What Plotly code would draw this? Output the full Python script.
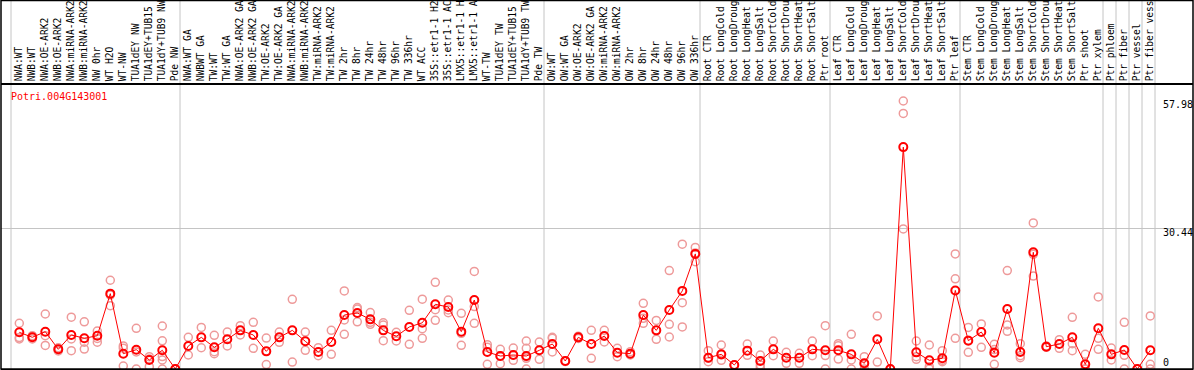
import plotly.graph_objects as go

labels = [
    "NWA:WT", "NWB:WT", "NWA:OE-ARK2", "NWB:OE-ARK2", "NWA:miRNA-ARK2", "NWB:miRNA-ARK2",
    "NW 0hr", "WT H2O", "WT-NW", "TUA1dEY NW", "TUA1dEY+TUB15", "TUA1dY+TUB9 NW", "Pde NW",
    "NWA:WT GA", "NWBWT GA", "TW:WT", "TW:WT GA", "NWA:OE-ARK2 GA", "NWB:OE-ARK2 GA",
    "TW:OE-ARK2", "TW:OE-ARK2 GA", "NWA:miRNA-ARK2", "NWB:miRNA-ARK2", "TW:miRNA-ARK2",
    "TW:miRNA-ARK2", "TW 2hr", "TW 8hr", "TW 24hr", "TW 48hr", "TW 96hr", "TW 336hr",
    "WT ACC", "35S::etr1-1 H2", "35S::etr1-1 AC", "LMX5::etr1-1 H", "LMX5::etr1-1 A",
    "WT-TW", "TUA1dEY TW", "TUA1dEY+TUB15", "TUA1dY+TUB9 TW", "Pde TW",
    "OW:WT", "OW:WT GA", "OW:OE-ARK2", "OW:OE-ARK2 GA", "OW:miRNA-ARK2", "OW:miRNA-ARK2",
    "OW 2hr", "OW 8hr", "OW 24hr", "OW 48hr", "OW 96hr", "OW 336hr",
    "Root CTR", "Root LongCold", "Root LongDroug", "Root LongHeat", "Root LongSalt",
    "Root ShortCold", "Root ShortDrou", "Root ShortHeat", "Root ShortSalt", "Ptr root",
    "Leaf CTR", "Leaf LongCold", "Leaf LongDroug", "Leaf LongHeat", "Leaf LongSalt",
    "Leaf ShortCold", "Leaf ShortDrou", "Leaf ShortHeat", "Leaf ShortSalt", "Ptr leaf",
    "Stem CTR", "Stem LongCold", "Stem LongDroug", "Stem LongHeat", "Stem LongSalt",
    "Stem ShortCold", "Stem ShortDrou", "Stem ShortHeat", "Stem ShortSalt", "Ptr shoot",
    "Ptr xylem", "Ptr phloem", "Ptr fiber", "Ptr vessel", "Ptr fiber vess",
]

group_sizes = [13, 28, 12, 10, 10, 11, 1, 1, 1, 1]

mean_values = [
    7.94, 6.86, 8.07, 4.26, 7.36, 6.64, 7.2, 16.3, 3.31, 4.18, 1.95, 4.05, 0.0,
    4.98, 6.85, 4.69, 6.42, 8.36, 7.36, 3.82, 6.85, 8.36, 5.99, 3.68, 5.84, 11.68,
    12.12, 10.74, 8.36, 7.07, 9.09, 10.0, 13.99, 13.41, 8.08, 14.93, 3.68, 2.81,
    3.03, 2.81, 4.04,
    5.41, 1.73, 6.85, 5.41, 7.14, 3.53, 3.32, 11.68, 8.36, 12.77, 16.9, 24.9,
    2.45, 3.17, 0.87, 3.97, 1.73, 4.25, 2.45, 2.45, 4.25, 4.04,
    4.04, 3.17, 1.23, 6.42, 0.0, 48.0, 3.6, 1.88, 2.31, 17.0,
    6.13, 8.0, 3.53, 12.98, 3.68, 25.24, 4.83, 5.41, 6.85, 1.01, 8.8,
    3.17, 4.11, 0.0, 4.04,
]

replicates = [
    [9.9, 6.8, 6.5], [7.2, 6.9, 6.5], [11.9, 7.2, 5.1], [4.6, 4.2, 3.9],
    [11.2, 6.5, 3.97], [10.2, 5.8, 4.3], [8.2, 6.6, 5.8], [19.2, 16.0, 13.7],
    [5.0, 4.5, 0.65], [8.8, 3.7, 0.0], [2.67, 2.16, 0.5], [9.3, 6.1, 2.7, 1.95, 0.0],
    [0.0, 0.0],
    [6.86, 3.03], [9.0, 4.6], [7.28, 3.75, 3.32], [8.0, 4.98], [9.37, 7.36],
    [10.1, 4.47], [6.7, 0.95], [8.0, 5.77], [15.07, 1.51], [8.0, 4.04], [4.62, 2.88],
    [8.36, 3.17], [16.9, 10.6, 7.5], [13.3, 13.0, 10.2], [12.2, 10.1, 9.67],
    [10.0, 9.52, 6.13], [7.93, 6.06], [12.69, 5.34], [15.1, 8.73, 6.63],
    [18.75, 12.84, 10.53], [14.93, 12.77, 12.19], [12.04, 7.72, 5.12],
    [21.1, 13.5, 9.88], [5.27, 4.69, 1.01], [4.25, 2.88, 1.15], [4.54, 3.03, 1.88],
    [6.06, 4.47, 2.67, 2.31, 0.0], [5.84, 2.09],
    [6.85, 6.63, 3.68], [1.8, 1.6], [7.1, 6.6], [8.36, 2.31], [8.36, 5.84],
    [4.47, 2.67], [3.75, 3.03], [14.2, 10.96, 9.88], [10.5, 6.42], [21.3, 9.67, 6.92],
    [27.0, 14.35, 9.09], [26.3, 25.1, 23.2],
    [3.97, 2.31, 1.59], [5.19, 3.03, 1.88], [0.9, 0.8], [5.41, 2.96],
    [3.03, 0.87, 0.29], [6.06, 2.88], [3.6, 1.23], [3.39, 1.23], [6.06, 2.88],
    [9.37, 2.9, 0.0],
    [5.48, 5.05, 2.16], [7.5, 1.95, 0.0], [2.67, 1.0, 0.0], [11.47, 1.51], [0.0, 0.0],
    [57.98, 55.3, 30.3], [6.06, 2.67, 2.1], [5.19, 0.5, 0.0], [3.97, 1.88, 1.59],
    [24.9, 19.5, 6.63],
    [9.0, 6.2, 3.6], [9.74, 4.69], [5.34, 4.2, 1.01], [21.3, 9.52, 8.15],
    [5.48, 2.88, 2.45], [31.6, 24.8, 20.1], [5.0, 4.7], [6.35, 4.47],
    [11.18, 5.48, 3.97], [3.17, 0.0, 0.0], [15.6, 6.63, 4.25],
    [4.54, 1.95], [10.1, 2.96, 0.0], [0.0, 0.0], [11.47, 1.01, 0.0],
]

gene_name = "Potri.004G143001"
y_ticks = [0, 30.44, 57.98]
y_tick_text = ["0", "30.44", "57.98"]

FONT = "DejaVu Sans Mono"
MEAN_COLOR = "#ff0000"
REP_COLOR = "#ee9a9a"
GRID = "#c4c4c4"

xs = list(range(1, len(labels) + 1))
rep_x, rep_y = [], []
for xi, reps in zip(xs, replicates):
    for v in reps:
        rep_x.append(xi)
        rep_y.append(v)

fig = go.Figure()
fig.add_trace(go.Scatter(
    x=rep_x, y=rep_y, mode="markers",
    marker=dict(symbol="circle-open", size=8, color=REP_COLOR, line=dict(width=1.5, color=REP_COLOR)),
    hoverinfo="skip",
))
fig.add_trace(go.Scatter(
    x=xs, y=mean_values, mode="lines+markers",
    line=dict(color=MEAN_COLOR, width=1),
    marker=dict(symbol="circle-open", size=8, color=MEAN_COLOR, line=dict(width=2, color=MEAN_COLOR)),
))

# separators between groups
bounds = [0]
for g in group_sizes:
    bounds.append(bounds[-1] + g)
shapes = []
for b in bounds:
    shapes.append(dict(type="line", xref="x", yref="paper", x0=b + 0.3615, x1=b + 0.3615,
                       y0=0, y1=1.31, line=dict(color=GRID, width=1), layer="below"))
# outer frame
shapes.append(dict(type="rect", xref="paper", yref="paper", x0=0, x1=1, y0=0, y1=1.2975,
                   line=dict(color="black", width=1.5), layer="above"))

annotations = [dict(text=gene_name, xref="paper", yref="paper", x=0.0065, y=0.958,
                    xanchor="left", yanchor="middle", showarrow=False,
                    font=dict(family=FONT, size=10, color=MEAN_COLOR))]
shifts = {0: 7, 30.44: -4, 57.98: -4}
for v, t in zip(y_ticks, y_tick_text):
    annotations.append(dict(text=t, xref="paper", yref="y", x=0.9735, y=v, xanchor="left",
                            yanchor="middle", yshift=shifts[v], showarrow=False,
                            font=dict(family=FONT, size=10, color="black")))

a = -0.4077
fig.update_layout(
    width=1194, height=370,
    margin=dict(l=1, r=1, t=85, b=1, pad=0, autoexpand=False),
    paper_bgcolor="white", plot_bgcolor="white",
    showlegend=False,
    shapes=shapes, annotations=annotations,
    xaxis=dict(
        range=[a, a + 1192 / 13], side="top", tickmode="array", tickvals=xs, ticktext=labels,
        tickangle=-90, ticks="", showgrid=False, zeroline=False, automargin=False,
        showline=True, linecolor="black", linewidth=1.5, mirror=True,
        tickfont=dict(family=FONT, size=9.6, color="black"),
    ),
    yaxis=dict(
        range=[0, 61.44], tickmode="array", tickvals=[30.44], showticklabels=False,
        ticks="", showgrid=True, gridcolor=GRID, gridwidth=1, zeroline=False,
        showline=False, automargin=False,
    ),
)

fig.write_html(
    "out.html",
    config={"displayModeBar": False},
    post_script="document.body.style.margin='0';document.body.style.overflow='hidden';",
)
